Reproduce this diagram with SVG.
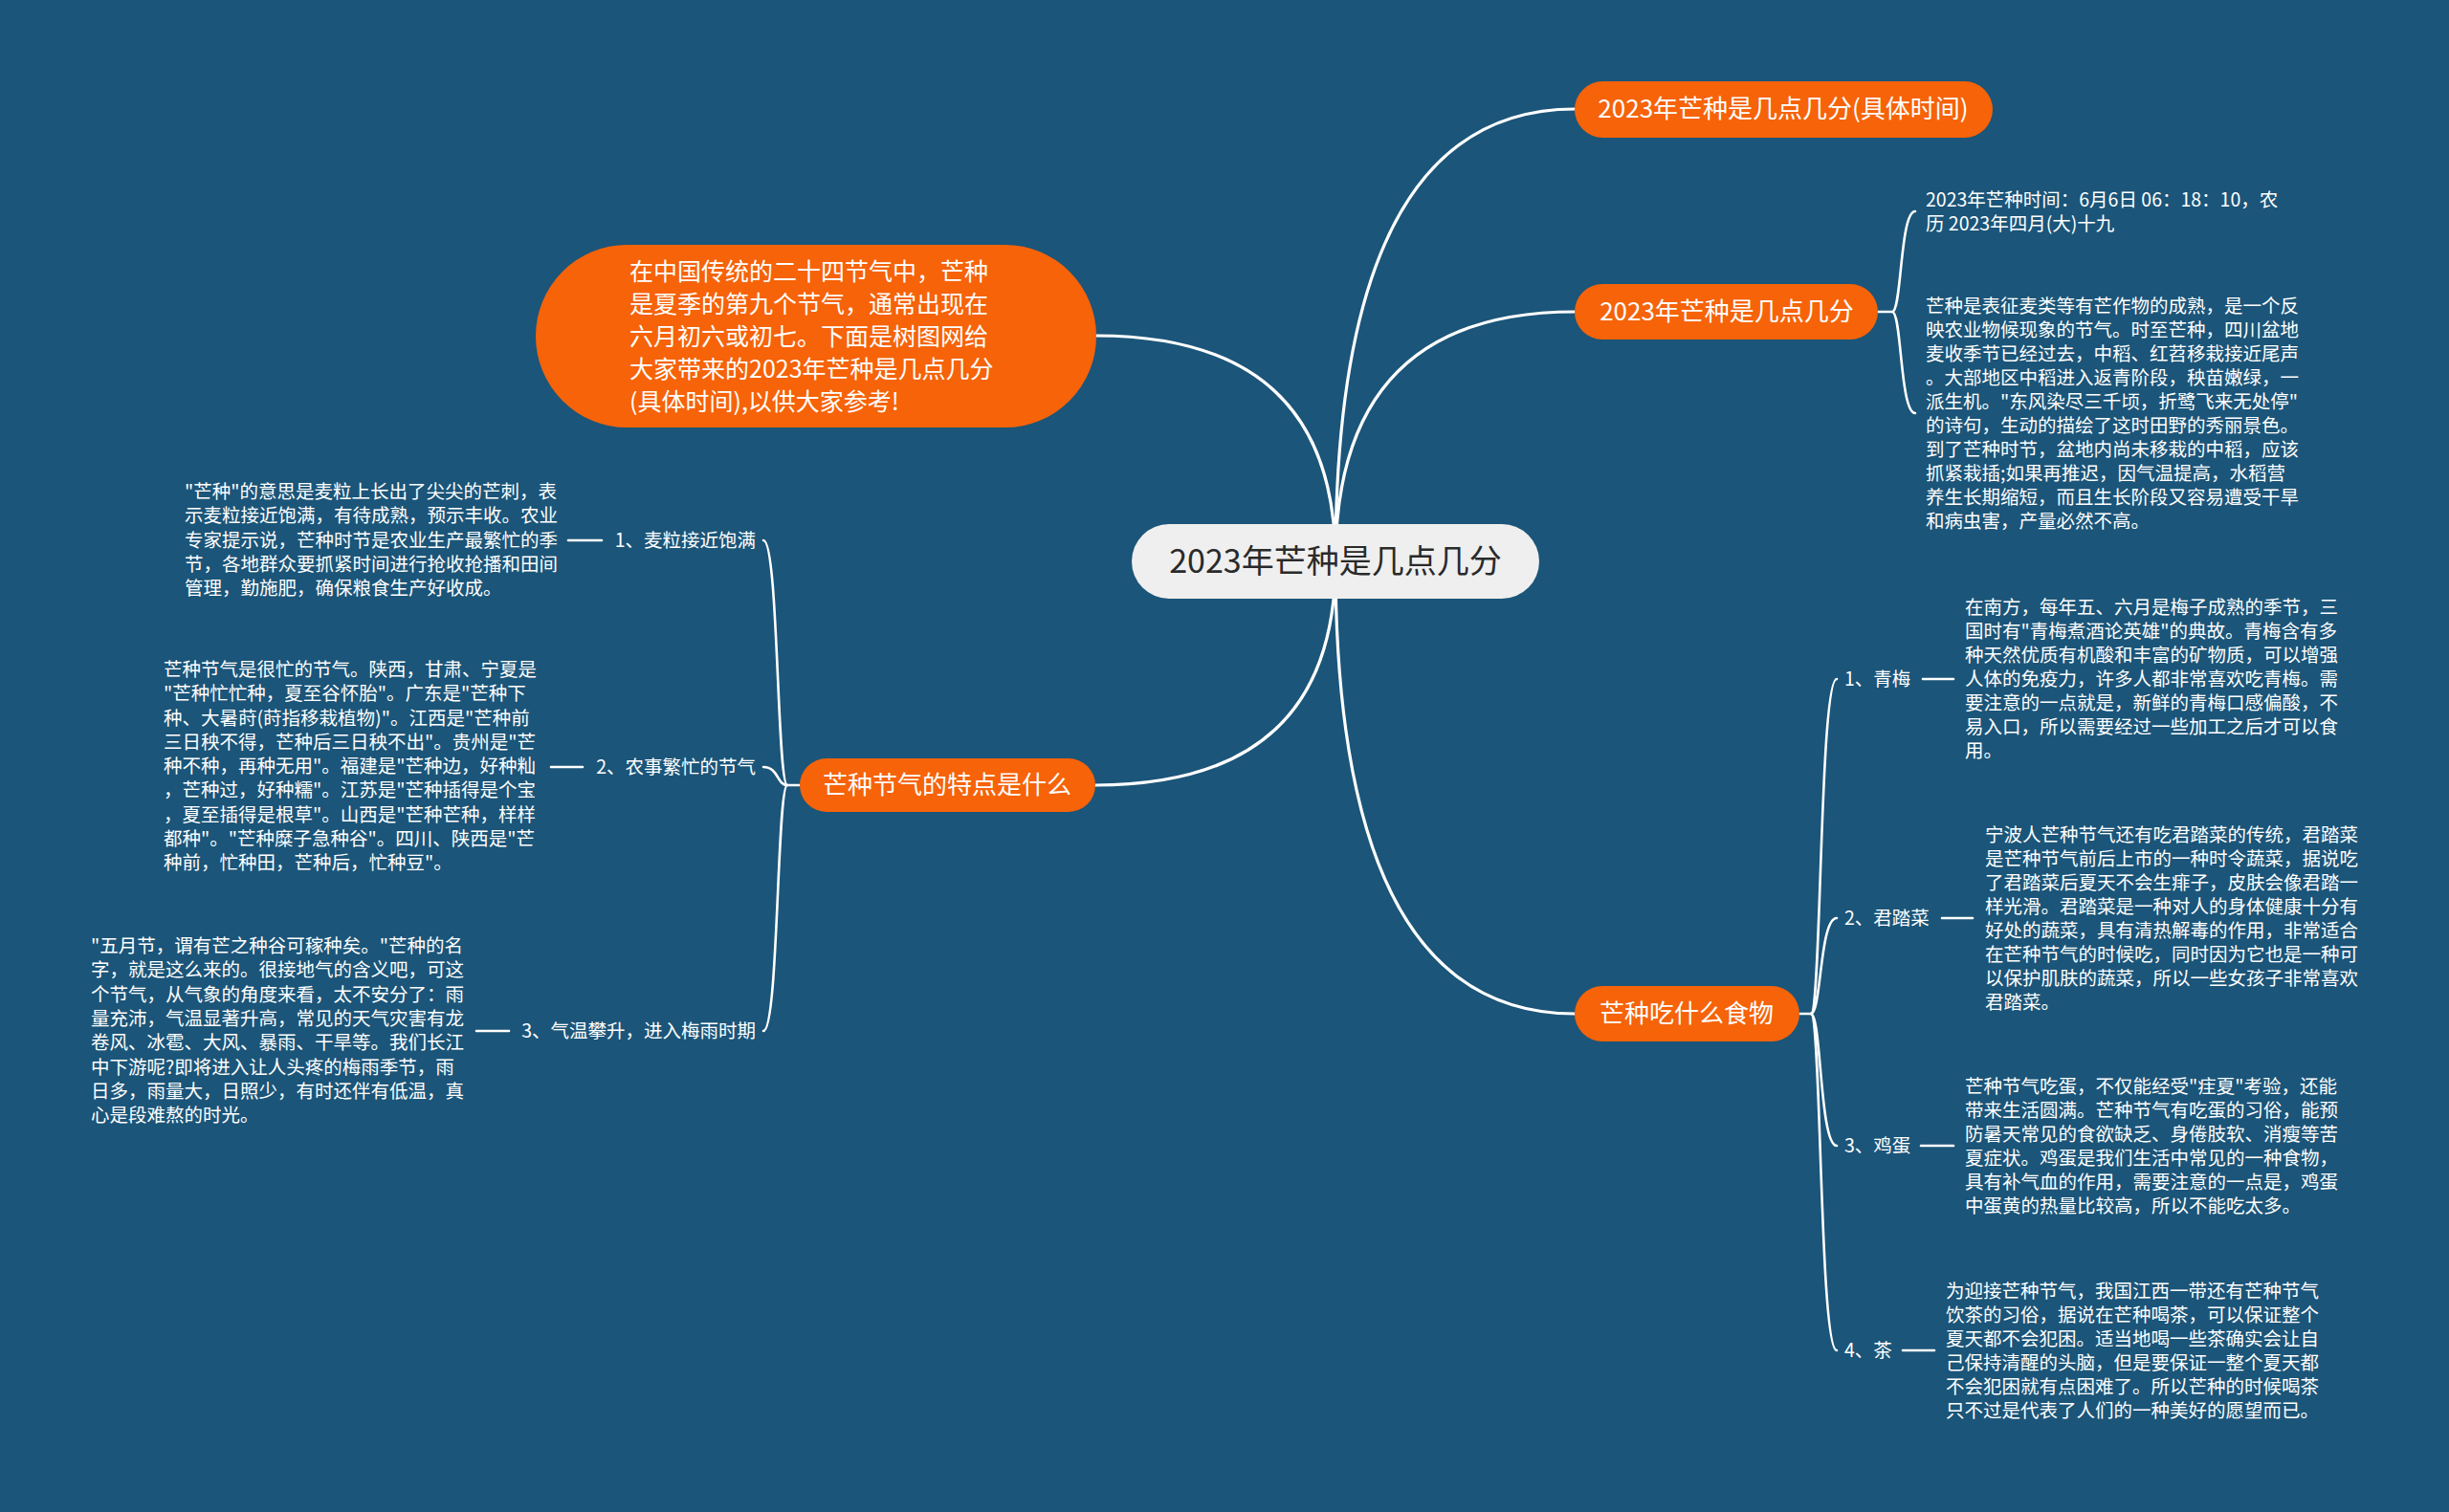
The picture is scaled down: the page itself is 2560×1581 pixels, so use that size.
<svg xmlns="http://www.w3.org/2000/svg" width="2560" height="1581" viewBox="0 0 2560 1581">
<style>
.bg{fill:#1b5579}
.main{fill:none;stroke:#ffffff;stroke-width:3.2;stroke-linecap:round}
.sub{fill:none;stroke:#ffffff;stroke-width:2.6;stroke-linecap:round}
.org{fill:#f66309}
.root{fill:#efefef}
.t{font-family:"Microsoft YaHei","Noto Sans CJK SC","Noto Sans",sans-serif}
.tw{fill:#ffffff}
.tr{fill:#2a2a2a;font-size:34px}
.tb{font-size:26px}
.tp{font-size:19.5px;fill:#ffffff}
</style>
<rect class="bg" x="0" y="0" width="2560" height="1581"/>

<g id="connectors">
  <path class="main" d="M1396,587 Q1396,114 1646,114"/>
  <path class="main" d="M1396,587 Q1396,326 1646,326"/>
  <path class="main" d="M1396,587 Q1396,1060 1646,1060"/>
  <path class="main" d="M1396,587 Q1396,351 1146,351"/>
  <path class="main" d="M1396,587 Q1396,821 1145,821"/>
  <!-- R2 bracket -->
  <path class="sub" d="M1963,326 L1978,326 C1988,326 1986,221 2002,221"/>
  <path class="sub" d="M1978,326 C1988,326 1986,432 2002,432"/>
  <!-- R3 bracket -->
  <path class="sub" d="M1881,1060 L1893,1060 C1904,1060 1902,710 1920,710"/>
  <path class="sub" d="M1893,1060 C1904,1060 1902,960 1920,960"/>
  <path class="sub" d="M1893,1060 C1904,1060 1902,1198 1920,1198"/>
  <path class="sub" d="M1893,1060 C1904,1060 1902,1412 1920,1412"/>
  <!-- R3 dashes -->
  <path class="sub" d="M2010,710 L2042,710"/>
  <path class="sub" d="M2030,960 L2062,960"/>
  <path class="sub" d="M2008,1198 L2042,1198"/>
  <path class="sub" d="M1989,1412 L2022,1412"/>
  <!-- L2 bracket -->
  <path class="sub" d="M836,821 L823,821 C812,821 814,565 798,565"/>
  <path class="sub" d="M823,821 C812,821 814,802 798,802"/>
  <path class="sub" d="M823,821 C812,821 814,1078 798,1078"/>
  <!-- L2 dashes -->
  <path class="sub" d="M594,565 L629,565"/>
  <path class="sub" d="M576,802 L609,802"/>
  <path class="sub" d="M498,1078 L532,1078"/>
</g>

<g id="root">
  <rect class="root" x="1183" y="548" width="426" height="78" rx="39"/>
  <text class="t tr" x="1396" y="599" text-anchor="middle">2023年芒种是几点几分</text>
</g>

<g id="node-r1">
  <rect class="org" x="1646" y="85" width="437" height="59" rx="29.5"/>
  <text class="t tw tb" x="1864" y="123" text-anchor="middle">2023年芒种是几点几分(具体时间)</text>
</g>

<g id="node-r2">
  <rect class="org" x="1646" y="297" width="317" height="58" rx="29"/>
  <text class="t tw tb" x="1805" y="335" text-anchor="middle">2023年芒种是几点几分</text>
</g>

<g id="node-r2-c1">
  <text class="t tp"><tspan x="2013" y="216">2023年芒种时间：6月6日 06：18：10，农</tspan><tspan x="2013" y="241">历 2023年四月(大)十九</tspan></text>
</g>

<g id="node-r2-c2">
  <text class="t tp">
    <tspan x="2013" y="327">芒种是表征麦类等有芒作物的成熟，是一个反</tspan>
    <tspan x="2013" y="352">映农业物候现象的节气。时至芒种，四川盆地</tspan>
    <tspan x="2013" y="377">麦收季节已经过去，中稻、红苕移栽接近尾声</tspan>
    <tspan x="2013" y="402">。大部地区中稻进入返青阶段，秧苗嫩绿，一</tspan>
    <tspan x="2013" y="427">派生机。"东风染尽三千顷，折鹭飞来无处停"</tspan>
    <tspan x="2013" y="452">的诗句，生动的描绘了这时田野的秀丽景色。</tspan>
    <tspan x="2013" y="477">到了芒种时节，盆地内尚未移栽的中稻，应该</tspan>
    <tspan x="2013" y="502">抓紧栽插;如果再推迟，因气温提高，水稻营</tspan>
    <tspan x="2013" y="527">养生长期缩短，而且生长阶段又容易遭受干旱</tspan>
    <tspan x="2013" y="552">和病虫害，产量必然不高。</tspan>
  </text>
</g>

<g id="node-r3">
  <rect class="org" x="1646" y="1031" width="235" height="58" rx="29"/>
  <text class="t tw tb" x="1763" y="1069" text-anchor="middle">芒种吃什么食物</text>
</g>

<g id="node-qingmei">
  <text class="t tp" x="1928" y="717">1、青梅</text>
  <text class="t tp">
    <tspan x="2054" y="642">在南方，每年五、六月是梅子成熟的季节，三</tspan>
    <tspan x="2054" y="667">国时有"青梅煮酒论英雄"的典故。青梅含有多</tspan>
    <tspan x="2054" y="692">种天然优质有机酸和丰富的矿物质，可以增强</tspan>
    <tspan x="2054" y="717">人体的免疫力，许多人都非常喜欢吃青梅。需</tspan>
    <tspan x="2054" y="742">要注意的一点就是，新鲜的青梅口感偏酸，不</tspan>
    <tspan x="2054" y="767">易入口，所以需要经过一些加工之后才可以食</tspan>
    <tspan x="2054" y="792">用。</tspan>
  </text>
</g>

<g id="node-juntacai">
  <text class="t tp" x="1928" y="967">2、君踏菜</text>
  <text class="t tp">
    <tspan x="2075" y="880">宁波人芒种节气还有吃君踏菜的传统，君踏菜</tspan>
    <tspan x="2075" y="905">是芒种节气前后上市的一种时令蔬菜，据说吃</tspan>
    <tspan x="2075" y="930">了君踏菜后夏天不会生痱子，皮肤会像君踏一</tspan>
    <tspan x="2075" y="955">样光滑。君踏菜是一种对人的身体健康十分有</tspan>
    <tspan x="2075" y="980">好处的蔬菜，具有清热解毒的作用，非常适合</tspan>
    <tspan x="2075" y="1005">在芒种节气的时候吃，同时因为它也是一种可</tspan>
    <tspan x="2075" y="1030">以保护肌肤的蔬菜，所以一些女孩子非常喜欢</tspan>
    <tspan x="2075" y="1055">君踏菜。</tspan>
  </text>
</g>

<g id="node-jidan">
  <text class="t tp" x="1928" y="1205">3、鸡蛋</text>
  <text class="t tp">
    <tspan x="2054" y="1143">芒种节气吃蛋，不仅能经受"疰夏"考验，还能</tspan>
    <tspan x="2054" y="1168">带来生活圆满。芒种节气有吃蛋的习俗，能预</tspan>
    <tspan x="2054" y="1193">防暑天常见的食欲缺乏、身倦肢软、消瘦等苦</tspan>
    <tspan x="2054" y="1218">夏症状。鸡蛋是我们生活中常见的一种食物，</tspan>
    <tspan x="2054" y="1243">具有补气血的作用，需要注意的一点是，鸡蛋</tspan>
    <tspan x="2054" y="1268">中蛋黄的热量比较高，所以不能吃太多。</tspan>
  </text>
</g>

<g id="node-cha">
  <text class="t tp" x="1928" y="1419">4、茶</text>
  <text class="t tp">
    <tspan x="2034" y="1357">为迎接芒种节气，我国江西一带还有芒种节气</tspan>
    <tspan x="2034" y="1382">饮茶的习俗，据说在芒种喝茶，可以保证整个</tspan>
    <tspan x="2034" y="1407">夏天都不会犯困。适当地喝一些茶确实会让自</tspan>
    <tspan x="2034" y="1432">己保持清醒的头脑，但是要保证一整个夏天都</tspan>
    <tspan x="2034" y="1457">不会犯困就有点困难了。所以芒种的时候喝茶</tspan>
    <tspan x="2034" y="1482">只不过是代表了人们的一种美好的愿望而已。</tspan>
  </text>
</g>

<g id="node-l1">
  <rect class="org" x="560" y="256" width="586" height="191" rx="95.5"/>
  <text class="t tw" font-size="25">
    <tspan x="658" y="293">在中国传统的二十四节气中，芒种</tspan>
    <tspan x="658" y="327">是夏季的第九个节气，通常出现在</tspan>
    <tspan x="658" y="361">六月初六或初七。下面是树图网给</tspan>
    <tspan x="658" y="395">大家带来的2023年芒种是几点几分</tspan>
    <tspan x="658" y="429">(具体时间),以供大家参考!</tspan>
  </text>
</g>

<g id="node-l2">
  <rect class="org" x="836" y="793" width="309" height="56" rx="28"/>
  <text class="t tw tb" x="990" y="830" text-anchor="middle">芒种节气的特点是什么</text>
</g>

<g id="node-maili">
  <text class="t tp" x="790" y="572" text-anchor="end">1、麦粒接近饱满</text>
  <text class="t tp">
    <tspan x="193" y="521">"芒种"的意思是麦粒上长出了尖尖的芒刺，表</tspan>
    <tspan x="193" y="546">示麦粒接近饱满，有待成熟，预示丰收。农业</tspan>
    <tspan x="193" y="572">专家提示说，芒种时节是农业生产最繁忙的季</tspan>
    <tspan x="193" y="597">节，各地群众要抓紧时间进行抢收抢播和田间</tspan>
    <tspan x="193" y="622">管理，勤施肥，确保粮食生产好收成。</tspan>
  </text>
</g>

<g id="node-nongshi">
  <text class="t tp" x="790" y="809" text-anchor="end">2、农事繁忙的节气</text>
  <text class="t tp">
    <tspan x="171" y="707">芒种节气是很忙的节气。陕西，甘肃、宁夏是</tspan>
    <tspan x="171" y="732">"芒种忙忙种，夏至谷怀胎"。广东是"芒种下</tspan>
    <tspan x="171" y="758">种、大暑莳(莳指移栽植物)"。江西是"芒种前</tspan>
    <tspan x="171" y="783">三日秧不得，芒种后三日秧不出"。贵州是"芒</tspan>
    <tspan x="171" y="808">种不种，再种无用"。福建是"芒种边，好种籼</tspan>
    <tspan x="171" y="833">，芒种过，好种糯"。江苏是"芒种插得是个宝</tspan>
    <tspan x="171" y="859">，夏至插得是根草"。山西是"芒种芒种，样样</tspan>
    <tspan x="171" y="884">都种"。"芒种糜子急种谷"。四川、陕西是"芒</tspan>
    <tspan x="171" y="909">种前，忙种田，芒种后，忙种豆"。</tspan>
  </text>
</g>

<g id="node-qiwen">
  <text class="t tp" x="790" y="1085" text-anchor="end">3、气温攀升，进入梅雨时期</text>
  <text class="t tp">
    <tspan x="95" y="996">"五月节，谓有芒之种谷可稼种矣。"芒种的名</tspan>
    <tspan x="95" y="1021">字，就是这么来的。很接地气的含义吧，可这</tspan>
    <tspan x="95" y="1047">个节气，从气象的角度来看，太不安分了：雨</tspan>
    <tspan x="95" y="1072">量充沛，气温显著升高，常见的天气灾害有龙</tspan>
    <tspan x="95" y="1097">卷风、冰雹、大风、暴雨、干旱等。我们长江</tspan>
    <tspan x="95" y="1123">中下游呢?即将进入让人头疼的梅雨季节，雨</tspan>
    <tspan x="95" y="1148">日多，雨量大，日照少，有时还伴有低温，真</tspan>
    <tspan x="95" y="1173">心是段难熬的时光。</tspan>
  </text>
</g>
</svg>
